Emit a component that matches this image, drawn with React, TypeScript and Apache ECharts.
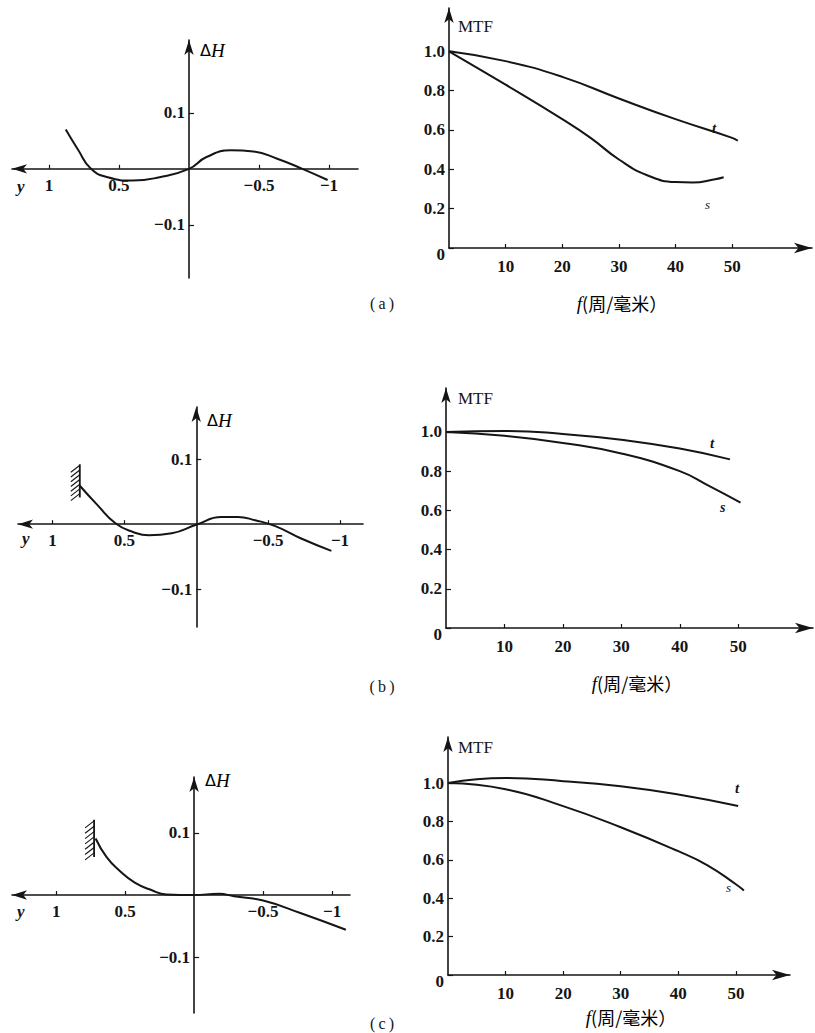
import React, { useEffect, useRef } from "react";
import * as echarts from "echarts";

const SERIF = '"Liberation Serif", "Times New Roman", serif';
const CJK = '"Noto Sans CJK SC", "Noto Sans CJK JP", sans-serif';
const INK = "#151515";

// ---- ΔH versus y (left column) ----
const dhA = [[0.88, 0.07], [0.79, 0.033], [0.7, 0], [0.58, -0.015], [0.4, -0.021], [0.21, -0.015], [0, 0], [-0.125, 0.021], [-0.3, 0.033], [-0.46, 0.031], [-0.63, 0.018], [-0.81, 0], [-0.99, -0.02]];
const dhB = [[0.81, 0.059], [0.69, 0.03], [0.56, 0.001], [0.44, -0.012], [0.33, -0.017], [0.17, -0.014], [0, -0.001], [-0.175, 0.011], [-0.29, 0.011], [-0.41, 0.006], [-0.55, -0.003], [-0.73, -0.022], [-0.94, -0.041]];
const dhC = [[0.714, 0.091], [0.634, 0.061], [0.54, 0.039], [0.43, 0.02], [0.31, 0.008], [0.2, 0.001], [0, 0], [-0.18, 0.002], [-0.29, -0.002], [-0.5, -0.009], [-0.77, -0.029], [-1.1, -0.056]];
// hatch marks at curve start: [y, ΔH bottom, ΔH top]
const hatchB = [[0.81, 0.041, 0.092]];
const hatchC = [[0.725, 0.061, 0.121]];

// ---- MTF versus f (right column) ----
const mtfAt = [[0, 1.0], [10, 0.95], [20, 0.87], [30, 0.76], [40, 0.655], [50, 0.56], [51, 0.545]];
const mtfAs = [[0, 1.0], [10, 0.83], [20, 0.655], [25, 0.56], [30, 0.45], [35, 0.37], [40, 0.335], [43, 0.333], [47, 0.35], [48.5, 0.36]];
const mtfBt = [[0, 1.0], [10, 1.005], [20, 0.99], [30, 0.96], [40, 0.915], [48.6, 0.86]];
const mtfBs = [[0, 1.0], [10, 0.98], [20, 0.944], [30, 0.89], [40, 0.8], [45, 0.725], [50.4, 0.64]];
const mtfCt = [[0, 1.0], [10, 1.026], [20, 1.01], [30, 0.983], [40, 0.94], [50.4, 0.88]];
const mtfCs = [[0, 1.0], [10, 0.968], [20, 0.88], [30, 0.77], [40, 0.645], [45, 0.573], [50, 0.473], [51.4, 0.44]];

// tick labels
const yTicksDH = [-0.1, 0.1];
const xTicksY = [-1, -0.5, 0.5, 1];
const yTicksMTF = [0, 0.2, 0.4, 0.6, 0.8, 1.0];
const xTicksF = [10, 20, 30, 40, 50];

const fmtSigned = (v: number) => (v < 0 ? "\u2212" + String(Math.abs(v)) : String(v));

const lineStyle = { color: INK, width: 1.6 };
const labelBase = { color: INK, fontFamily: SERIF, fontSize: 17, fontWeight: "bold" as const };

type G = { left: number; top: number; width: number; height: number };

function leftAxes(gi: number, g: G, xmin: number, xmax: number, ymin: number, ymax: number) {
  // axes cross at the origin: shift them from the grid edge to the zero lines
  const xOff = -(g.height * (0 - ymin)) / (ymax - ymin);
  const yOff = -(g.width * (xmax - 0)) / (xmax - xmin);
  return {
    x: {
      type: "value", gridIndex: gi, min: xmin, max: xmax, inverse: true,
      position: "bottom", offset: xOff,
      splitLine: { show: false },
      axisLine: { onZero: false, lineStyle, symbol: ["arrow", "none"], symbolSize: [7, 15] },
      axisTick: { inside: true, length: 4, customValues: xTicksY, lineStyle: { color: INK, width: 1.2 } },
      axisLabel: { ...labelBase, customValues: xTicksY, formatter: (v: number) => fmtSigned(v), margin: 8 },
    },
    y: {
      type: "value", gridIndex: gi, min: ymin, max: ymax,
      position: "left", offset: yOff,
      splitLine: { show: false },
      axisLine: { onZero: false, lineStyle, symbol: ["none", "arrow"], symbolSize: [7, 15] },
      axisTick: { inside: true, length: 5, customValues: yTicksDH, lineStyle: { color: INK, width: 1.2 } },
      axisLabel: { ...labelBase, customValues: yTicksDH, formatter: (v: number) => fmtSigned(v), margin: 4 },
    },
  };
}

function rightAxes(gi: number, xmax: number, ymax: number) {
  return {
    x: {
      type: "value", gridIndex: gi, min: 0, max: xmax,
      splitLine: { show: false },
      axisLine: { onZero: false, lineStyle, symbol: ["none", "arrow"], symbolSize: [8, 18] },
      axisTick: { inside: true, length: 4, customValues: xTicksF, lineStyle: { color: INK, width: 1.2 } },
      axisLabel: { ...labelBase, customValues: xTicksF, margin: 10 },
    },
    y: {
      type: "value", gridIndex: gi, min: 0, max: ymax,
      splitLine: { show: false },
      axisLine: { onZero: false, lineStyle, symbol: ["none", "arrow"], symbolSize: [7, 15] },
      axisTick: { inside: true, length: 5, customValues: yTicksMTF, lineStyle: { color: INK, width: 1.2 } },
      axisLabel: {
        ...labelBase, customValues: yTicksMTF, margin: 4,
        formatter: (v: number) => (v === 0 ? "{z|0}" : v.toFixed(1)),
        rich: { z: { fontFamily: SERIF, fontSize: 17, fontWeight: "bold", color: INK, padding: [12, 0, 0, 0] } },
      },
    },
  };
}

function curve(gi: number, data: number[][]) {
  return {
    type: "line", xAxisIndex: gi, yAxisIndex: gi, data, smooth: 0.5,
    symbol: "none", lineStyle: { color: INK, width: 2 }, silent: true, clip: false,
  };
}

function hatch(gi: number, data: number[][]) {
  return {
    type: "custom", xAxisIndex: gi, yAxisIndex: gi, data, silent: true, clip: false,
    renderItem: (_p: any, api: any) => {
      const p0 = api.coord([api.value(0), api.value(1)]);
      const p1 = api.coord([api.value(0), api.value(2)]);
      const children: any[] = [
        { type: "line", shape: { x1: p0[0], y1: p0[1], x2: p1[0], y2: p1[1] }, style: { stroke: INK, lineWidth: 1.8 } },
      ];
      const n = 7;
      for (let i = 0; i < n; i++) {
        const y = p1[1] + ((p0[1] - p1[1]) * (i + 0.2)) / n;
        children.push({ type: "line", shape: { x1: p0[0], y1: y, x2: p0[0] - 9, y2: y + 7 }, style: { stroke: INK, lineWidth: 1.1 } });
      }
      return { type: "group", children };
    },
  };
}

function txt(x: number, y: number, text: string, font: string, align = "left") {
  return {
    type: "text", x, y,
    style: { text, fill: INK, font, textAlign: align, textVerticalAlign: "middle" },
  };
}

function dhLabel(x: number, y: number) {
  return {
    type: "text", x, y,
    style: {
      text: "{a|\u0394}{b|H}", textVerticalAlign: "middle",
      rich: {
        a: { fontFamily: '"DejaVu Sans", sans-serif', fontSize: 16, color: INK },
        b: { fontFamily: SERIF, fontStyle: "italic", fontSize: 19, color: INK },
      },
    },
  };
}

function fLabel(cx: number, y: number) {
  return {
    type: "text", x: cx, y,
    style: {
      text: "{i|f}{c|(周/毫米）}", textAlign: "center", textVerticalAlign: "middle",
      rich: {
        i: { fontFamily: SERIF, fontStyle: "italic", fontSize: 19, color: INK },
        c: { fontFamily: CJK, fontSize: 18, color: INK },
      },
    },
  };
}

export default function App() {
  const ref = useRef<HTMLDivElement>(null);
  useEffect(() => {
    if (!ref.current) return;
    const chart = echarts.init(ref.current, null, { renderer: "svg" });
    const gLA: G = { left: 12, top: 40, width: 346, height: 238 };
    const gRA: G = { left: 449, top: 8, width: 363, height: 240 };
    const gLB: G = { left: 18, top: 407, width: 345, height: 220 };
    const gRB: G = { left: 446, top: 388, width: 367, height: 240 };
    const gLC: G = { left: 12, top: 777, width: 338, height: 236 };
    const gRC: G = { left: 448, top: 737, width: 342, height: 238 };
    const LA = leftAxes(0, gLA, -1.207, 1.264, -0.195, 0.23);
    const RA = rightAxes(1, 64.1, 1.22);
    const LB = leftAxes(2, gLB, -1.16, 1.24, -0.158, 0.18);
    const RB = rightAxes(3, 62.8, 1.224);
    const LC = leftAxes(4, gLC, -1.13, 1.32, -0.19, 0.19);
    const RC = rightAxes(5, 59.4, 1.24);
    const g = (r: G) => ({ ...r, containLabel: false, outerBoundsMode: "none" });
    const ySym = `italic bold 17px ${SERIF}`;
    const mtfFont = `17px ${SERIF}`;
    const tFont = `italic bold 15px ${SERIF}`;
    const sFont = `italic 13px ${SERIF}`;
    const panelFont = `16px ${SERIF}`;
    chart.setOption({
      animation: false,
      backgroundColor: "#ffffff",
      grid: [g(gLA), g(gRA), g(gLB), g(gRB), g(gLC), g(gRC)],
      xAxis: [LA.x, RA.x, LB.x, RB.x, LC.x, RC.x],
      yAxis: [LA.y, RA.y, LB.y, RB.y, LC.y, RC.y],
      series: [
        curve(0, dhA),
        curve(1, mtfAt),
        curve(1, mtfAs),
        curve(2, dhB),
        hatch(2, hatchB),
        curve(3, mtfBt),
        curve(3, mtfBs),
        curve(4, dhC),
        hatch(4, hatchC),
        curve(5, mtfCt),
        curve(5, mtfCs),
      ],
      graphic: [
        // (a)
        dhLabel(200, 50),
        txt(17, 186, "y", ySym),
        txt(458, 26, "MTF", mtfFont),
        txt(712, 128, "t", tFont),
        txt(705, 204, "s", sFont),
        txt(382, 303, "(\u2009a\u2009)", panelFont, "center"),
        fLabel(622, 303),
        // (b)
        dhLabel(207, 420),
        txt(22, 538, "y", ySym),
        txt(458, 398, "MTF", mtfFont),
        txt(710, 443, "t", tFont),
        txt(720, 507, "s", `italic bold 14px ${SERIF}`),
        txt(382, 686, "(\u2009b\u2009)", panelFont, "center"),
        fLabel(637, 683),
        // (c)
        dhLabel(205, 780),
        txt(17, 911, "y", ySym),
        txt(458, 747, "MTF", mtfFont),
        txt(735, 788, "t", tFont),
        txt(726, 887, "s", sFont),
        txt(382, 1023, "(\u2009c\u2009)", panelFont, "center"),
        fLabel(631, 1017),
      ],
    });
    return () => chart.dispose();
  }, []);
  return <div ref={ref} style={{ position: "absolute", left: 0, top: 0, width: 815, height: 1033, background: "#fff" }} />;
}
